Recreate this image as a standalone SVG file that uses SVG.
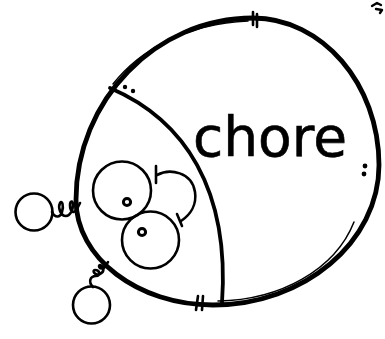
<svg xmlns="http://www.w3.org/2000/svg" width="385" height="339" viewBox="0 0 385 339">
<style>
.ink{fill:none;stroke:#000;stroke-linecap:round;stroke-linejoin:round}
.thick{stroke-width:4.8}
.mid{stroke-width:3.8}
.thin{stroke-width:2.6}
.hair{stroke-width:1.5}
.dot{fill:#000}
.label{font-family:"DejaVu Sans",sans-serif;font-size:55px;fill:#000;stroke:#000;stroke-width:0.6}
</style>
<rect width="385" height="339" fill="#fff"/>
<g id="outer">
<path class="ink thick" d="M253,18 C322,18 379,84 379,165 C379,242 304,305 213,305 C138,305 76,258 76,200 C76,100 156,18 253,18 Z"/>
<path class="ink hair" d="M113,84 C140,50 185,24 248,21"/>
<path class="ink hair" d="M218,301 C280,300 335,270 354,222"/>
<path class="ink thin" d="M253,12 L253,25 M257,14 L257,27"/>
<path class="ink thin" d="M198,296 L196,310 M203,296 L202,310"/>
<circle class="dot" cx="125" cy="87" r="2.2"/>
<circle class="dot" cx="133" cy="91" r="2.2"/>
<circle class="dot" cx="365" cy="166" r="2.4"/>
<circle class="dot" cx="364" cy="174" r="2.4"/>
</g>
<g id="divider">
<path class="ink mid" d="M110,88 C185,120 230,190 222,303"/>
</g>
<g id="chore">
<text class="label" x="193" y="156">chore</text>
</g>
<g id="circle1">
<circle class="ink thin" cx="122" cy="190.5" r="29"/>
<circle class="ink" stroke-width="3" cx="127" cy="202" r="3.6"/>
</g>
<g id="circle2">
<circle class="ink thin" cx="150.5" cy="240" r="28.5"/>
<circle class="ink" stroke-width="3" cx="142" cy="232" r="3.6"/>
</g>
<g id="satA">
<circle class="ink thin" cx="34" cy="212" r="18.5"/>
</g>
<g id="satB">
<circle class="ink thin" cx="91.5" cy="305" r="18.5"/>
</g>
<g id="connectors">
<path class="ink thin" d="M157,175 C170,168 192,172 195,192 C197,205 190,215 181,221"/>
<path class="ink thin" d="M156,166 L156,183"/>
<path class="ink thin" d="M177,214 L182,226"/>
<path class="ink thin" d="M52,212 C55,218 60,218 62,212 C64,205 62,200 60,203 C58,207 60,216 66,216 C70,216 73,210 73,205 C73,200 70,201 70,205 C70,212 74,214 77,209 L80,203"/>
<path class="ink thin" d="M93,287 C88,282 90,276 96,276 C101,276 100,270 95,270 C92,270 94,276 100,274 C105,272 104,266 100,265 C98,265 99,270 104,268 L108,262"/>
</g>
<g id="mark">
<path class="ink" stroke-width="2.4" d="M372,6 L377,3 L381,5 M376,9 L382,10 L380,13"/>
</g>
</svg>
